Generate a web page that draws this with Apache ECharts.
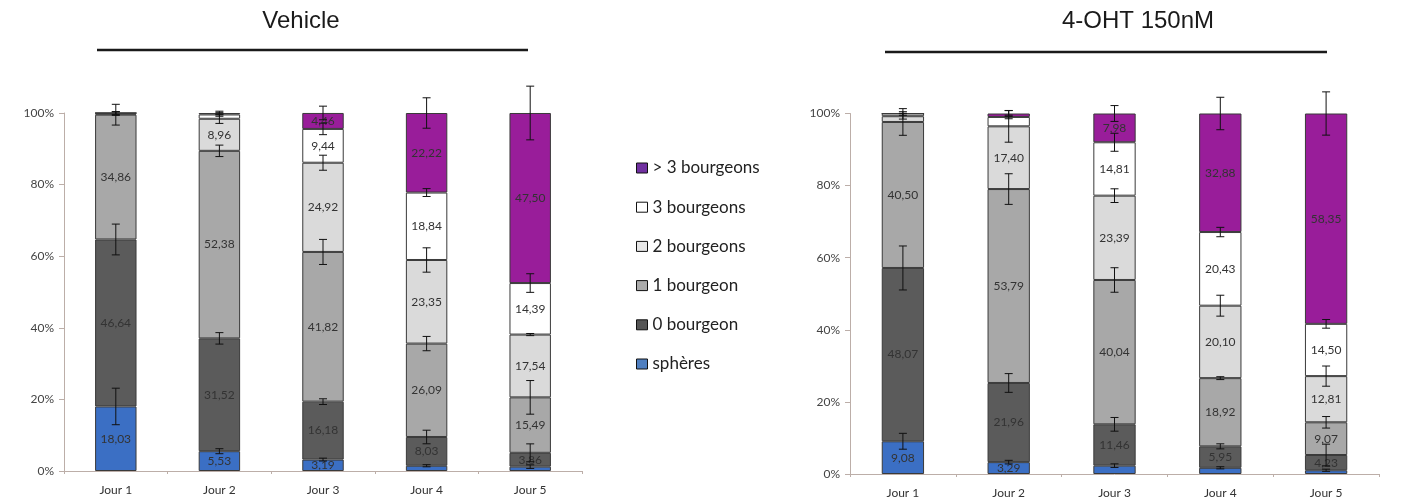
<!DOCTYPE html>
<html>
<head>
<meta charset="utf-8">
<script src="https://cdn.jsdelivr.net/npm/echarts@6/dist/echarts.min.js"></script>
<style>
  html, body { margin: 0; padding: 0; background: #fff; }
  #chart { width: 1402px; height: 504px; }
</style>
</head>
<body>
<div id="chart"></div>
<script>
const days = ['Jour 1', 'Jour 2', 'Jour 3', 'Jour 4', 'Jour 5'];
const seriesNames = ['sphères', '0 bourgeon', '1 bourgeon', '2 bourgeons', '3 bourgeons', '> 3 bourgeons'];
const yTicks = [0, 20, 40, 60, 80, 100];

// Vehicle, % per day (bottom -> top)
const vehSpheres = [18.03, 5.53, 3.19, 1.47, 1.22];
const vehB0 = [46.64, 31.52, 16.18, 8.03, 3.86];
const vehB1 = [34.86, 52.38, 41.82, 26.09, 15.49];
const vehB2 = [0.30, 8.96, 24.92, 23.35, 17.54];
const vehB3 = [0.17, 1.20, 9.44, 18.84, 14.39];
const vehB3plus = [0, 0.41, 4.46, 22.22, 47.50];

// Vehicle, error bars (+/-)
const vehErrSpheres = [5.1, 0.7, 0.4, 0.3, 0.5];
const vehErrB0 = [4.3, 1.6, 0.8, 1.9, 2.5];
const vehErrB1 = [2.9, 1.6, 3.5, 2.0, 4.7];
const vehErrB2 = [0.5, 1.3, 2.1, 3.4, 0.3];
const vehErrB3 = [0.4, 0.5, 1.6, 1.1, 2.6];
const vehErrB3plus = [0, 0.5, 1.9, 4.25, 7.5];

// 4-OHT 150nM
const ohtSpheres = [9.08, 3.29, 2.32, 1.72, 1.04];
const ohtB0 = [48.07, 21.96, 11.46, 5.95, 4.23];
const ohtB1 = [40.50, 53.79, 40.04, 18.92, 9.07];
const ohtB2 = [1.60, 17.40, 23.39, 20.10, 12.81];
const ohtB3 = [0.75, 2.60, 14.81, 20.43, 14.50];
const ohtB3plus = [0, 0.96, 7.98, 32.88, 58.35];

const ohtErrSpheres = [2.2, 0.5, 0.5, 0.3, 0.3];
const ohtErrB0 = [6.1, 2.6, 1.9, 0.7, 3.0];
const ohtErrB1 = [3.7, 4.25, 3.4, 0.4, 1.6];
const ohtErrB2 = [0.8, 4.4, 1.9, 2.9, 2.8];
const ohtErrB3 = [0.5, 0.5, 2.5, 1.3, 1.2];
const ohtErrB3plus = [0, 0.8, 2.2, 4.5, 6.0];

const colors = ['#3b6fc4', '#5b5b5b', '#a8a8a8', '#dadada', '#ffffff', '#991d9a'];
const font = 'Lato, "Open Sans", sans-serif';

const vehValues = [vehSpheres, vehB0, vehB1, vehB2, vehB3, vehB3plus];
const vehErrors = [vehErrSpheres, vehErrB0, vehErrB1, vehErrB2, vehErrB3, vehErrB3plus];
const ohtValues = [ohtSpheres, ohtB0, ohtB1, ohtB2, ohtB3, ohtB3plus];
const ohtErrors = [ohtErrSpheres, ohtErrB0, ohtErrB1, ohtErrB2, ohtErrB3, ohtErrB3plus];

function errRender(params, api) {
  const x = api.value(0), top = api.value(1), e = api.value(2);
  if (!e) return;
  const hi = api.coord([x, top + e]);
  const lo = api.coord([x, top - e]);
  const style = { stroke: '#111', lineWidth: 1 };
  return {
    type: 'group',
    children: [
      { type: 'line', shape: { x1: hi[0], y1: hi[1], x2: lo[0], y2: lo[1] }, style },
      { type: 'line', shape: { x1: hi[0] - 4, y1: hi[1], x2: hi[0] + 4, y2: hi[1] }, style },
      { type: 'line', shape: { x1: lo[0] - 4, y1: lo[1], x2: lo[0] + 4, y2: lo[1] }, style }
    ]
  };
}

function buildSeries(values, errors, idx) {
  const out = [];
  const cum = days.map(() => 0);
  values.forEach((vals, s) => {
    out.push({
      name: seriesNames[s],
      type: 'bar',
      stack: 'g' + idx,
      xAxisIndex: idx,
      yAxisIndex: idx,
      barWidth: '40%',
      data: vals,
      itemStyle: { color: colors[s], borderColor: '#3a3a3a', borderWidth: 1 },
      label: {
        show: true,
        position: 'inside',
        fontFamily: font,
        fontSize: 12,
        color: '#333',
        formatter: p => p.value >= 3 ? p.value.toFixed(2).replace('.', ',') : ''
      },
      emphasis: { disabled: true }
    });
    const errData = vals.map((v, i) => {
      cum[i] += v;
      return [i, cum[i], errors[s][i]];
    });
    out.push({
      type: 'custom',
      xAxisIndex: idx,
      yAxisIndex: idx,
      z: 5,
      renderItem: errRender,
      data: errData
    });
  });
  return out;
}

const axisColor = '#bcaea8';

function xAxis(gridIndex) {
  return {
    type: 'category',
    gridIndex,
    data: days,
    axisLine: { lineStyle: { color: axisColor } },
    axisTick: { show: true, length: 3, lineStyle: { color: axisColor } },
    axisLabel: { fontFamily: font, fontSize: 12, color: '#333', margin: 13 }
  };
}

function yAxis(gridIndex) {
  return {
    type: 'value',
    gridIndex,
    min: yTicks[0],
    max: yTicks[yTicks.length - 1],
    interval: 20,
    axisLine: { show: true, lineStyle: { color: axisColor } },
    axisTick: { show: true, length: 5, lineStyle: { color: axisColor } },
    splitLine: { show: false },
    axisLabel: { fontFamily: font, fontSize: 12, color: '#444', margin: 10, formatter: '{value}%' }
  };
}

const legendColors = ['#4f7fc0', '#555555', '#ababab', '#e6e6e6', '#ffffff', '#7030a0'];

const option = {
  animation: false,
  backgroundColor: '#ffffff',
  grid: [
    { left: 64, top: 113, width: 518, height: 358 },
    { left: 850, top: 113.5, width: 529, height: 360.5 }
  ],
  xAxis: [xAxis(0), xAxis(1)],
  yAxis: [yAxis(0), yAxis(1)],
  legend: {
    orient: 'vertical',
    left: 631,
    top: 153,
    itemWidth: 11,
    itemHeight: 10,
    itemGap: 19.2,
    icon: 'rect',
    selectedMode: false,
    itemStyle: { borderColor: '#111', borderWidth: 1 },
    textStyle: { fontFamily: font, fontSize: 17, lineHeight: 20, color: '#222' },
    data: seriesNames.slice().reverse().map(n => ({
      name: n,
      itemStyle: { color: legendColors[seriesNames.indexOf(n)] }
    }))
  },
  graphic: [
    { type: 'text', x: 301, y: 21, style: { text: 'Vehicle', fontFamily: '"Liberation Sans", Arial, sans-serif', fontSize: 24, fill: '#1a1a1a', textAlign: 'center', textVerticalAlign: 'middle' } },
    { type: 'line', shape: { x1: 97, y1: 50, x2: 528, y2: 50 }, style: { stroke: '#1a1a1a', lineWidth: 2.5 } },
    { type: 'text', x: 1138, y: 21, style: { text: '4-OHT 150nM', fontFamily: '"Liberation Sans", Arial, sans-serif', fontSize: 24, fill: '#1a1a1a', textAlign: 'center', textVerticalAlign: 'middle' } },
    { type: 'line', shape: { x1: 885, y1: 52, x2: 1327, y2: 52 }, style: { stroke: '#1a1a1a', lineWidth: 2.5 } }
  ],
  series: [...buildSeries(vehValues, vehErrors, 0), ...buildSeries(ohtValues, ohtErrors, 1)]
};

const myChart = echarts.init(document.getElementById('chart'));
myChart.setOption(option);
</script>
</body>
</html>
